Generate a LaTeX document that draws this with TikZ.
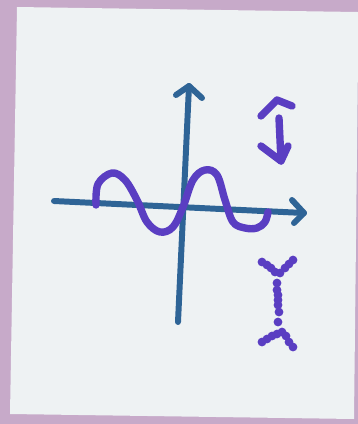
\documentclass[tikz,border=0pt]{standalone}
\usepackage{tikz}

\definecolor{wall}{HTML}{C7AAC9}
\definecolor{paper}{HTML}{EEF2F3}
\definecolor{axisblue}{HTML}{2E6496}
\definecolor{penpurple}{HTML}{5A3EC2}

\begin{document}
\begin{tikzpicture}[
    x=0.02cm, y=-0.02cm,
    axis/.style={draw=axisblue, line width=3.4pt, line cap=round, line join=round},
    pen/.style={draw=penpurple, line width=4.2pt, line cap=round, line join=round},
    dot/.style={fill=penpurple, circle, inner sep=0pt, minimum size=5pt}
]
    % background and sticky note
    \fill[wall] (0,0) rectangle (358,424);
    \useasboundingbox (0,0) rectangle (358,424);
    \fill[paper] (17,7) -- (358,12) -- (358,60) -- (354,419) -- (10,414) -- cycle;

    % axes
    \coordinate (ytop) at (189,86);
    \coordinate (ybot) at (178,322);
    \coordinate (xleft) at (54,201);
    \coordinate (xright) at (304,213);
    \draw[axis] (ybot) -- (ytop);
    \draw[axis] (176,95) -- (ytop) -- (202,98);
    \draw[axis] (xleft) -- (xright);
    \draw[axis] (292,200) -- (xright) -- (294,223);

    % wave
    \draw[pen] plot[smooth, tension=0.6] coordinates {
        (96,205) (98,184) (112,173) (125,180) (137,200) (147,222) (160,232)
        (173,227) (183,207) (193,180) (205,170) (217,175) (225,200) (233,222)
        (245,228) (257,228) (265,222) (268,212)};

    % double arrow
    \coordinate (atop) at (277,100);
    \coordinate (abot) at (281,161);
    \draw[pen] (279,118) -- (abot);
    \draw[pen] (261,116) -- (atop) -- (292,106);
    \draw[pen] (261,146) -- (abot) -- (288,146);

    % dotted Y shape
    \foreach \px/\py in {262/262, 267/265, 271/268, 275/272, 280/273, 285/268,
        289/264, 293/260, 277/283, 277/290, 278/295, 278/300, 278/305, 279/312,
        278/322, 282/332, 277/334, 272/336, 267/339, 262/342, 286/336, 289/342,
        293/347}
        \node[dot] at (\px,\py) {};
\end{tikzpicture}
\end{document}
